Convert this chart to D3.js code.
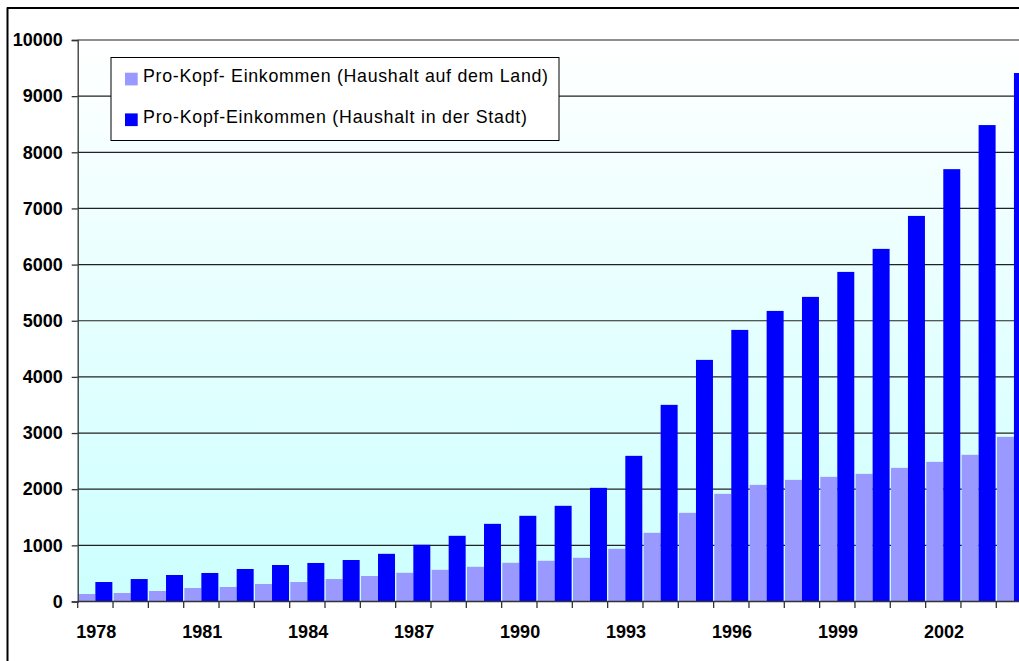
<!DOCTYPE html>
<html>
<head>
<meta charset="utf-8">
<script src="https://cdn.jsdelivr.net/npm/d3@7"></script>
<style>
  html, body { margin: 0; padding: 0; background: #fff; }
  svg { display: block; }
  text { font-family: "Liberation Sans", Arial, sans-serif; }
</style>
</head>
<body>
<svg id="chart" width="1019" height="661"></svg>
<script>
const years = [1978,1979,1980,1981,1982,1983,1984,1985,1986,1987,1988,1989,1990,1991,1992,1993,1994,1995,1996,1997,1998,1999,2000,2001,2002,2003,2004];
const ruralIncome = [134,151,187,240,258,312,347,400,454,511,564,618,689,725,778,938,1223,1579,1917,2077,2166,2220,2273,2380,2487,2612,2932];
const urbanIncome = [347,400,472,508,579,650,686,739,849,1009,1170,1383,1526,1704,2024,2594,3502,4303,4837,5175,5425,5870,6280,6867,7700,8485,9412];
const seriesNames = ["Pro-Kopf- Einkommen (Haushalt auf dem Land)", "Pro-Kopf-Einkommen (Haushalt in der Stadt)"];
const seriesColors = ["#9999FF", "#0000FF"];
const yTicks = [0,1000,2000,3000,4000,5000,6000,7000,8000,9000,10000];
const xLabelYears = [1978,1981,1984,1987,1990,1993,1996,1999,2002];

const FONT = "'Liberation Sans', Arial, sans-serif";
const svg = d3.select("#chart");
const W = 1019, H = 661;
const plotLeft = 77.7, step = 35.33;
const plotRight = plotLeft + step * years.length;
const yTop = 40, yBottom = 601.5;

const x = d3.scaleBand().domain(years).range([plotLeft, plotRight]).padding(0);
const xs = d3.scaleBand().domain([0,1]).range([0, x.bandwidth()]).paddingInner(0).paddingOuter(0.04);
const y = d3.scaleLinear().domain([0, 10000]).range([yBottom, yTop]);

// gradient background
const defs = svg.append("defs");
const grad = defs.append("linearGradient").attr("id","bg").attr("x1",0).attr("y1",0).attr("x2",0).attr("y2",1);
grad.append("stop").attr("offset","0%").attr("stop-color","#FFFFFF");
grad.append("stop").attr("offset","100%").attr("stop-color","#CCFFFF");

svg.append("rect").attr("x", plotLeft).attr("y", y(10000)).attr("width", plotRight - plotLeft)
   .attr("height", y(0) - y(10000)).attr("fill", "url(#bg)");

// gridlines
svg.append("g").selectAll("line").data(yTicks.filter(d => d > 0)).join("line")
  .attr("x1", plotLeft).attr("x2", plotRight)
  .attr("y1", d => y(d)).attr("y2", d => y(d))
  .attr("stroke", "#222").attr("stroke-width", 1.2);

// bars
const series = [ruralIncome, urbanIncome];
const gBars = svg.append("g");
series.forEach((vals, si) => {
  gBars.append("g").selectAll("rect").data(years.map((yr, i) => ({yr, v: vals[i]}))).join("rect")
    .attr("x", d => x(d.yr) + xs(si))
    .attr("width", xs.bandwidth())
    .attr("y", d => y(d.v))
    .attr("height", d => y(0) - y(d.v))
    .attr("fill", seriesColors[si]);
});

// y axis
const yAxis = d3.axisLeft(y).tickValues(yTicks).tickSize(6).tickPadding(9).tickFormat(d3.format("d"));
const gy = svg.append("g").attr("transform", `translate(${plotLeft},0)`).call(yAxis);
gy.attr("font-family", FONT);
gy.select(".domain").attr("stroke", "#333").attr("stroke-width", 1.3);
gy.selectAll(".tick line").attr("stroke", "#333").attr("stroke-width", 1.3);
gy.selectAll(".tick text").attr("font-size", "18px").attr("font-weight", "bold")
  .attr("font-family", FONT).attr("fill", "#000");

// x axis
const gx = svg.append("g").attr("transform", `translate(0,${yBottom})`);
gx.append("line").attr("x1", plotLeft).attr("x2", plotRight).attr("y1", 0).attr("y2", 0)
  .attr("stroke", "#333").attr("stroke-width", 1.5);
const boundaries = years.map(yr => x(yr)).concat([plotRight]);
gx.selectAll("line.tk").data(boundaries).join("line").attr("class","tk")
  .attr("x1", d => d).attr("x2", d => d).attr("y1", 0).attr("y2", 6.5)
  .attr("stroke", "#333").attr("stroke-width", 1.3);
gx.selectAll("text").data(xLabelYears).join("text")
  .attr("x", d => x(d) + x.bandwidth()/2 + 0.8)
  .attr("y", 36)
  .attr("text-anchor", "middle")
  .attr("font-family", FONT)
  .attr("font-size", "18px").attr("font-weight", "bold").attr("fill", "#000")
  .text(d => d);

// legend
const lg = svg.append("g").attr("transform", "translate(111,57.5)");
lg.append("rect").attr("x", 0).attr("y", 0).attr("width", 448).attr("height", 83)
  .attr("fill", "#fff").attr("stroke", "#000").attr("stroke-width", 1);
seriesNames.forEach((name, i) => {
  const row = lg.append("g").attr("transform", `translate(0, ${i * 40.7})`);
  row.append("rect").attr("x", 14).attr("y", 15.2).attr("width", 12.7).attr("height", 12.7).attr("fill", seriesColors[i]);
  row.append("text").attr("x", 32).attr("y", 24.5).attr("font-size", "17.8px").attr("fill", "#000")
    .attr("font-family", FONT)
    .attr("textLength", i === 0 ? 405 : 384).attr("lengthAdjust", "spacing")
    .text(name);
});

// outer chart border
svg.append("line").attr("x1", 7.5).attr("x2", 7.5).attr("y1", 7.5).attr("y2", H).attr("stroke", "#000").attr("stroke-width", 2);
svg.append("line").attr("x1", 7).attr("x2", W).attr("y1", 8).attr("y2", 8).attr("stroke", "#000").attr("stroke-width", 2);
</script>
</body>
</html>
